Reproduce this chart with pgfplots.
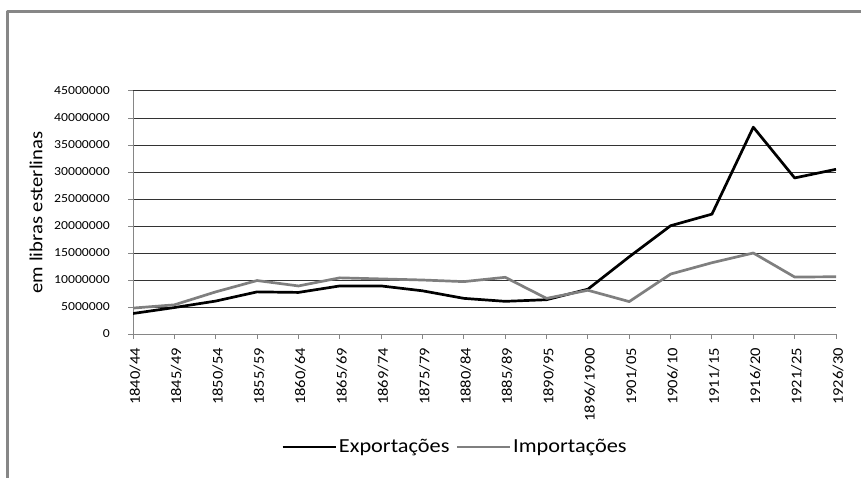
\documentclass[border=0pt]{standalone}
\usepackage{fontspec}
\setmainfont[FakeStretch=1.12]{Carlito}
\usepackage{pgfplots}
\usepackage{pgfplotstable}
\pgfplotsset{compat=1.18}

\definecolor{framec}{HTML}{878787}
\definecolor{impc}{HTML}{7F7F7F}
\definecolor{axisc}{HTML}{868686}

% valores em libras esterlinas
\pgfplotstableread{
x exp imp
0 3800000 4800000
1 4900000 5400000
2 6100000 7800000
3 7800000 9900000
4 7700000 8900000
5 8900000 10400000
6 8900000 10200000
7 8000000 10000000
8 6600000 9700000
9 6050000 10500000
10 6350000 6600000
11 8300000 8100000
12 14300000 6000000
13 20050000 11100000
14 22200000 13200000
15 38300000 15000000
16 28900000 10550000
17 30500000 10600000
}\comercio

\begin{document}
\begin{tikzpicture}[x=1bp,y=1bp]
\useasboundingbox (0,0) rectangle (861,-478);
\draw[framec, line width=3bp, line join=round] (7,-482) -- (7,-11.5) -- (866,-11.5);
\begin{axis}[
  at={(133bp,-334bp)}, anchor=south west,
  scale only axis, width=703bp, height=243bp,
  xmin=0, xmax=17, ymin=0, ymax=45000000,
  xtick={0,...,17},
  xticklabels={1840/44,1845/49,1850/54,1855/59,1860/64,1865/69,1869/74,1875/79,1880/84,1885/89,1890/95,1896/1900,1901/05,1906/10,1911/15,1916/20,1921/25,1926/30},
  ytick={0,5000000,...,45000000},
  scaled y ticks=false,
  /pgf/number format/fixed,
  /pgf/number format/1000 sep={},
  /pgf/number format/assume math mode=true,
  axis x line*=bottom, axis y line*=left,
  axis line style={axisc, line width=1bp, -},
  tick style={axisc, line width=1bp},
  major tick length=5bp, tick align=outside,
  ymajorgrids,
  major grid style={black!80, line width=1bp},
  yticklabel style={font=\fontsize{12.3}{14}\selectfont, anchor=east, inner sep=0pt, xshift=-18bp},
  xticklabel style={font=\fontsize{14.8}{16}\selectfont, yshift=-9bp, xshift=2bp, rotate=90, anchor=east, inner sep=0pt},
  ylabel={em libras esterlinas},
  every axis y label/.style={at={(axis description cs:-0.138,0.5)}, anchor=center, rotate=90, font=\fontsize{18.5}{20}\selectfont},
  legend style={at={(axis description cs:0.458,-0.465)}, anchor=center, draw=none, fill=none,
    legend columns=-1, font=\fontsize{20}{22}\selectfont,
    /tikz/every even column/.append style={column sep=4bp}},
  legend image code/.code={\draw[#1] (0bp,0bp) -- (53bp,0bp);},
]
\addplot[black, line width=2.7bp, line join=round] table[x=x, y=exp] {\comercio};
\addlegendentry{Exportações}
\addplot[impc, line width=2.7bp, line join=round] table[x=x, y=imp] {\comercio};
\addlegendentry{Importações}
\end{axis}
\end{tikzpicture}
\end{document}
